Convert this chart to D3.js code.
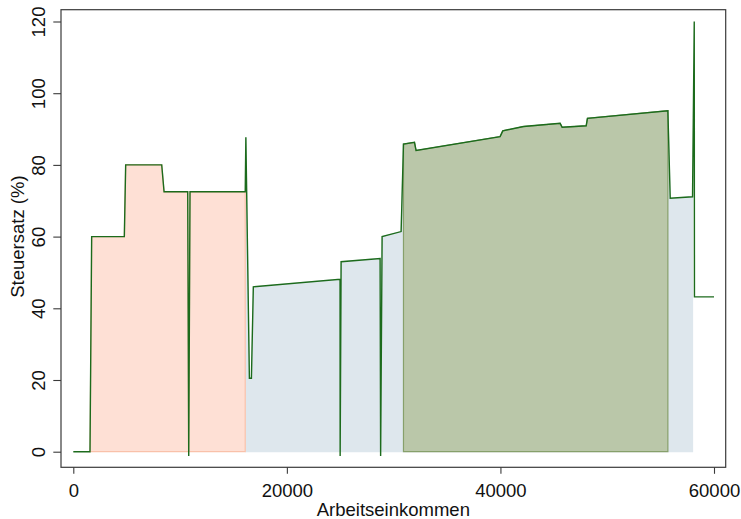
<!DOCTYPE html>
<html>
<head>
<meta charset="utf-8">
<script src="https://cdn.jsdelivr.net/npm/d3@7"></script>
<style>
  html, body { margin: 0; padding: 0; background: #fff; }
  svg { display: block; font-family: "Liberation Sans", Arial, sans-serif; }
</style>
</head>
<body>
<svg id="chart" width="741" height="519"></svg>
<script>
// Arbeitseinkommen (income) and effective Steuersatz (%) along the schedule
const income = [0, 1564, 1720, 4780, 4905, 8280, 8500, 10715, 10810, 10930, 16100, 16160,
  16490, 16680, 16860, 24980, 24990, 25080, 28730, 28780, 28920, 30700, 30920, 31950,
  32100, 39970, 40220, 42150, 45590, 45780, 48030, 48150, 55680, 55900, 57990, 58150,
  58170, 60000];
const rate = [0, 0, 60, 60, 80, 80, 72.5, 72.5, -1.2, 72.5, 72.5, 87.7,
  20.5, 20.5, 46, 48.1, -1.2, 53, 53.9, -1.2, 60, 61.4, 85.8, 86.3,
  84, 87.9, 89.5, 90.7, 91.6, 90.5, 90.9, 93, 95.1, 70.7, 71.1, 120,
  43.2, 43.2];

// Income ranges that are shaded below the curve
const bandStart = [16160, 1564, 30920];
const bandEnd = [57990, 16100, 55680];

const xTicks = [0, 20000, 40000, 60000];
const yTicks = [0, 20, 40, 60, 80, 100, 120];

const xTitle = "Arbeitseinkommen";
const yTitle = "Steuersatz (%)";

const points = income.map((x, i) => ({ x, y: rate[i] }));

const svg = d3.select("#chart");
const frame = { left: 61, top: 9.7, right: 725.7, bottom: 467.3 };

const x = d3.scaleLinear().domain([0, 60000]).range([73.3, 714]);
const y = d3.scaleLinear().domain([0, 120]).range([451.7, 21.5]);

const bandStyle = [
  { fill: "#dee7ed", stroke: "#dee7ed" },
  { fill: "#fee0d5", stroke: "#f9c1aa" },
  { fill: "#bac7a9", stroke: "#87a06b" }
];

const area = d3.area()
  .x(d => x(d.x))
  .y0(y(0))
  .y1(d => y(Math.max(0, d.y)));

bandStart.forEach((s, i) => {
  const seg = points.filter(p => p.x >= s && p.x <= bandEnd[i]);
  svg.append("path")
    .datum(seg)
    .attr("d", area)
    .attr("fill", bandStyle[i].fill)
    .attr("stroke", bandStyle[i].stroke)
    .attr("stroke-width", 1.2)
    .attr("stroke-linejoin", "miter");
});

// Tax-rate curve
svg.append("path")
  .datum(points)
  .attr("d", d3.line().x(d => x(d.x)).y(d => y(d.y)))
  .attr("fill", "none")
  .attr("stroke", "#1c6b1c")
  .attr("stroke-width", 1.4)
  .attr("stroke-linejoin", "miter");

// Plot frame
svg.append("rect")
  .attr("x", frame.left)
  .attr("y", frame.top)
  .attr("width", frame.right - frame.left)
  .attr("height", frame.bottom - frame.top)
  .attr("fill", "none")
  .attr("stroke", "#3a3a3a")
  .attr("stroke-width", 1.2);

// X axis
const xAxis = d3.axisBottom(x).tickValues(xTicks).tickFormat(d3.format("d")).tickSize(6.5).tickSizeOuter(0);
const gx = svg.append("g").attr("transform", `translate(0,${frame.bottom})`).call(xAxis);
gx.select(".domain").remove();
gx.selectAll(".tick line").attr("stroke", "#3a3a3a").attr("stroke-width", 1.1);
gx.selectAll(".tick text")
  .attr("font-size", 18.5)
  .attr("font-family", "Liberation Sans, Arial, sans-serif")
  .attr("fill", "#111")
  .attr("y", 29.4)
  .attr("dy", 0);

// Y axis with vertical tick labels
const yAxis = d3.axisLeft(y).tickValues(yTicks).tickFormat(d3.format("d")).tickSize(7.7).tickSizeOuter(0);
const gy = svg.append("g").attr("transform", `translate(${frame.left},0)`).call(yAxis);
gy.select(".domain").remove();
gy.selectAll(".tick line").attr("stroke", "#3a3a3a").attr("stroke-width", 1.1);
gy.selectAll(".tick text")
  .attr("font-size", 18.5)
  .attr("font-family", "Liberation Sans, Arial, sans-serif")
  .attr("fill", "#111")
  .attr("x", null).attr("dy", null)
  .attr("text-anchor", "middle")
  .attr("transform", "translate(-16,0) rotate(-90)");

// Axis titles
svg.append("text")
  .attr("x", (frame.left + frame.right) / 2)
  .attr("y", 515.5)
  .attr("text-anchor", "middle")
  .attr("font-size", 18.5)
  .attr("fill", "#111")
  .text(xTitle);

svg.append("text")
  .attr("transform", `translate(24,${y(60)}) rotate(-90)`)
  .attr("text-anchor", "middle")
  .attr("font-size", 18.5)
  .attr("fill", "#111")
  .text(yTitle);
</script>
</body>
</html>
